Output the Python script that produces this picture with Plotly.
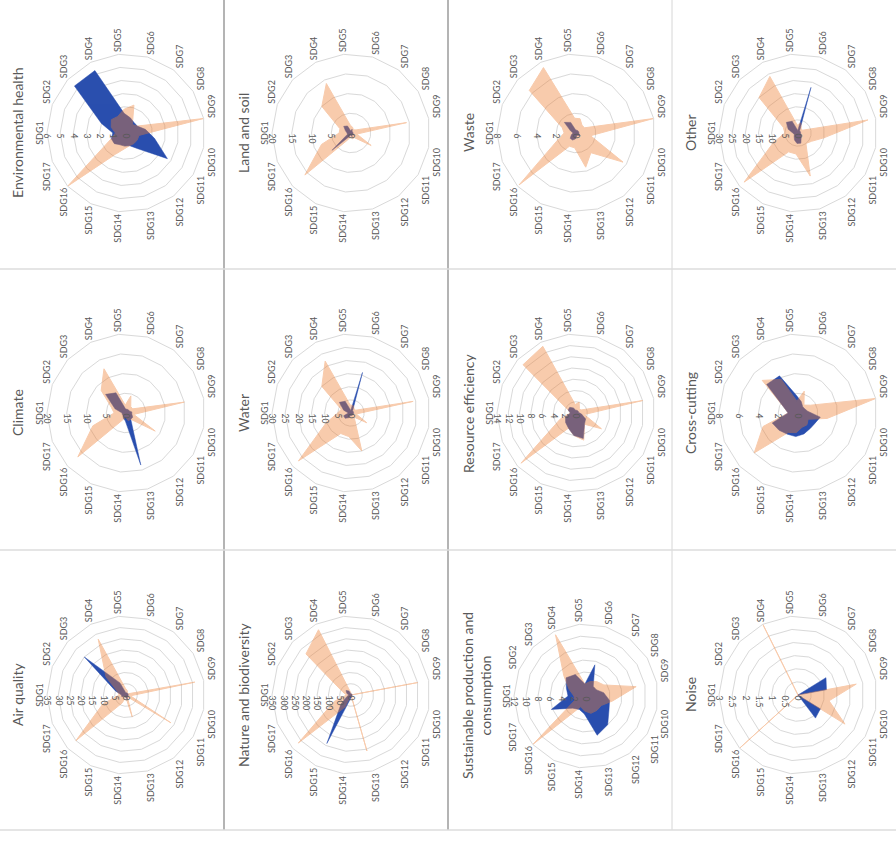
import plotly.graph_objects as go

# ---------------------------------------------------------------- data
SDG_LABELS = ["SDG1", "SDG2", "SDG3", "SDG4", "SDG5", "SDG6", "SDG7", "SDG8", "SDG9",
              "SDG10", "SDG11", "SDG12", "SDG13", "SDG14", "SDG15", "SDG16", "SDG17"]

AIR_QUALITY_S1 = [2, 5, 25, 6, 1, 1, 1, 1, 1, 1, 1, 1, 2, 1, 1, 1, 2]
AIR_QUALITY_S2 = [3, 4, 12, 27.6, 3, 2, 1, 1, 31, 2, 23.4, 1, 10, 1, 4, 30, 11]

CLIMATE_S1 = [1, 3, 7, 5.7, 1, 1, 1, 1, 1.5, 1.5, 2, 2, 13.7, 2, 1.5, 1, 1]
CLIMATE_S2 = [3, 4, 8.5, 12.5, 2, 4.5, 2, 2, 15, 2, 8.7, 2, 2, 1, 2, 16.5, 9]

ENV_HEALTH_S1 = [1.0, 2.0, 5.3, 5.3, 1.5, 1.2, 1.0, 1.0, 1.5, 2.2, 3.7, 1.5, 1.0, 1.0, 1.0, 1.2, 1.2]
ENV_HEALTH_S2 = [0.8, 1.2, 1.5, 1.4, 1.8, 2.2, 0.8, 1.0, 6.0, 1.0, 1.0, 1.0, 1.0, 1.2, 1.8, 6.0, 1.2]

NATURE_S1 = [10, 20, 30, 20, 5, 5, 5, 5, 5, 5, 5, 5, 10, 15, 240, 60, 20]
NATURE_S2 = [20, 40, 270, 323, 10, 5, 0, 0, 300, 0, 5, 0, 258, 0, 60, 316, 80]

WATER_S1 = [1, 3, 6, 5, 1, 16, 1, 1, 1, 1, 1, 1, 1, 1, 2, 3, 3]
WATER_S2 = [5, 4, 15, 22, 3, 3, 2, 2, 24, 2, 7, 2, 15, 9, 8.7, 27, 10]

LAND_SOIL_S1 = [1, 1.5, 2.5, 2, 0.5, 1, 0.5, 0.5, 0.5, 0.5, 1, 0.5, 1, 0.5, 1, 6.5, 1]
LAND_SOIL_S2 = [3, 3, 10, 14, 2, 1.5, 1, 1.5, 14.3, 1.5, 6, 1.5, 1.5, 1, 2, 15.8, 8]

SPC_S1 = [3, 3.5, 4.5, 4, 2, 5.4, 2, 2, 3, 4, 4.5, 6, 6.8, 3, 2.5, 3, 6.2]
SPC_S2 = [2, 3, 5, 11.4, 2, 2.5, 3, 3.5, 8.5, 4.5, 3, 3, 3, 2.5, 2, 12, 2]

RESOURCE_S1 = [1, 1.5, 1.5, 1, 0.5, 0.5, 0.5, 0.5, 0.5, 1, 2, 2.5, 4.7, 4, 3, 2.5, 2]
RESOURCE_S2 = [1, 1.5, 12.7, 13.2, 1.5, 2, 1, 1, 12, 1.5, 5.3, 2.5, 5, 4, 3, 13.2, 3]

WASTE_S1 = [0.3, 0.6, 1.6, 1.2, 0.3, 0.3, 0.3, 0.3, 0.3, 0.3, 0.5, 0.3, 0.3, 0.6, 0.8, 0.8, 0.5]
WASTE_S2 = [1.2, 1.5, 6.4, 7.4, 1.5, 1.5, 1, 1, 8, 1.5, 5.6, 2.5, 3.6, 1.5, 1.5, 7.8, 2]

NOISE_S1 = [0, 0, 0, 0, 0, 0, 0, 1.25, 1.1, 0, 1.0, 1.1, 0, 0, 0, 0, 0]
NOISE_S2 = [0, 0, 0, 3, 0, 0, 0, 0, 2.25, 1.2, 2.1, 0, 0, 0, 0, 3, 0]

CROSS_S1 = [1, 1.5, 4.3, 4.2, 1.8, 1.2, 0.8, 0.8, 1, 2.3, 2, 2, 2.2, 2.4, 2.4, 2.6, 2.8]
CROSS_S2 = [1, 1.5, 4.9, 3.8, 1.2, 2.3, 1, 1.5, 8, 3, 1.2, 1.5, 1.5, 2, 2.2, 6, 3.8]

OTHER_S1 = [2, 4, 6, 5, 1, 18, 1, 1, 1, 1, 1.5, 2, 4, 4, 3, 2, 1.5]
OTHER_S2 = [5, 6, 20, 24, 3, 4, 2, 2, 27, 10, 6, 5, 17, 8, 8, 27.7, 10]

# ---------------------------------------------------------------- page layout
PAGE_W, PAGE_H = 841, 896
FONT = "Lato, 'Open Sans', sans-serif"
TEXT = "#595959"
GRID = "#d9d9d9"
BLUE = "#2a4fae"
ORANGE = "#ED7D31"

# (title, series 1, series 2, axis max, axis step, centre x, centre y, radius) in page px
PANELS = [
    ("Air quality", AIR_QUALITY_S1, AIR_QUALITY_S2, 35, 5, 146, 126, 79),
    ("Climate", CLIMATE_S1, CLIMATE_S2, 20, 5, 428, 126, 79),
    ("Environmental health", ENV_HEALTH_S1, ENV_HEALTH_S2, 6, 1, 708, 126, 79),
    ("Nature and biodiversity", NATURE_S1, NATURE_S2, 350, 50, 146, 351, 79),
    ("Water", WATER_S1, WATER_S2, 30, 5, 428, 351, 79),
    ("Land and soil", LAND_SOIL_S1, LAND_SOIL_S2, 20, 5, 708, 351, 79),
    ("Sustainable production and<br>consumption", SPC_S1, SPC_S2, 12, 2, 145, 586, 72),
    ("Resource efficiency", RESOURCE_S1, RESOURCE_S2, 14, 2, 428, 576, 79),
    ("Waste", WASTE_S1, WASTE_S2, 8, 2, 708, 576, 79),
    ("Noise", NOISE_S1, NOISE_S2, 3, 0.5, 146, 798, 79),
    ("Cross-cutting", CROSS_S1, CROSS_S2, 8, 2, 428, 798, 79),
    ("Other", OTHER_S1, OTHER_S2, 30, 5, 708, 798, 79),
]

fig = go.Figure()
annotations = []
layout_polars = {}

for i, (title, s1, s2, rmax, step, cx, cy, rad) in enumerate(PANELS):
    key = "polar" if i == 0 else f"polar{i + 1}"
    theta = SDG_LABELS + SDG_LABELS[:1]
    fig.add_trace(go.Scatterpolar(
        r=list(s1) + [s1[0]], theta=theta, subplot=key, mode="lines",
        fill="toself", fillcolor=BLUE, line=dict(color=BLUE, width=0.5),
        showlegend=False, hoverinfo="skip"))
    fig.add_trace(go.Scatterpolar(
        r=list(s2) + [s2[0]], theta=theta, subplot=key, mode="lines",
        fill="toself", fillcolor=ORANGE, line=dict(color=ORANGE, width=1),
        opacity=0.4, showlegend=False, hoverinfo="skip"))

    layout_polars[key] = dict(
        domain=dict(x=[(cx - rad) / PAGE_W, (cx + rad) / PAGE_W],
                    y=[1 - (cy + rad) / PAGE_H, 1 - (cy - rad) / PAGE_H]),
        bgcolor="rgba(0,0,0,0)",
        gridshape="linear",
        angularaxis=dict(type="category", categoryorder="array", categoryarray=SDG_LABELS,
                         rotation=90, direction="clockwise", showgrid=False,
                         linecolor=GRID, linewidth=1, ticks="",
                         tickfont=dict(family=FONT, size=9, color=TEXT)),
        radialaxis=dict(range=[0, rmax], tick0=0, dtick=step, angle=90, tickangle=-90,
                        side="counterclockwise", showline=False, ticks="",
                        gridcolor=GRID, gridwidth=1,
                        tickfont=dict(family=FONT, size=8.5, color=TEXT)),
    )
    ty = cy - 108 if "<br>" not in title else cy - 110
    annotations.append(dict(
        text=title, x=cx / PAGE_W, y=1 - ty / PAGE_H, xref="paper", yref="paper",
        xanchor="center", yanchor="middle", showarrow=False,
        font=dict(family=FONT, size=14, color=TEXT)))

# panel frame lines (page px)
shapes = []
for yl, col, w in [(224, "#b4b4b4", 2), (448, "#b4b4b4", 2), (672, "#d6d6d6", 1)]:
    shapes.append(dict(type="line", xref="paper", yref="paper",
                       x0=11 / PAGE_W, x1=1, y0=1 - yl / PAGE_H, y1=1 - yl / PAGE_H,
                       line=dict(color=col, width=w)))
for xl in [11, 291, 572]:
    shapes.append(dict(type="line", xref="paper", yref="paper",
                       x0=xl / PAGE_W, x1=xl / PAGE_W, y0=0, y1=1,
                       line=dict(color="#dcdcdc", width=1.5)))

fig.update_layout(
    width=PAGE_W, height=PAGE_H,
    margin=dict(l=0, r=0, t=0, b=0),
    paper_bgcolor="white", plot_bgcolor="white",
    annotations=annotations, shapes=shapes,
    **layout_polars,
)

# the page is shown turned a quarter turn counter-clockwise
ROTATE_JS = """
var gd = document.getElementById('{plot_id}');
document.documentElement.style.margin = '0';
document.body.style.margin = '0';
document.documentElement.style.overflow = 'hidden';
document.body.style.overflow = 'hidden';
gd.style.position = 'absolute';
gd.style.left = '0px';
gd.style.top = '0px';
gd.style.transformOrigin = '0 0';
gd.style.transform = 'translateY(841px) rotate(-90deg)';
"""

fig.write_html("out.html", config={"displayModeBar": False, "responsive": False},
               post_script=ROTATE_JS)
